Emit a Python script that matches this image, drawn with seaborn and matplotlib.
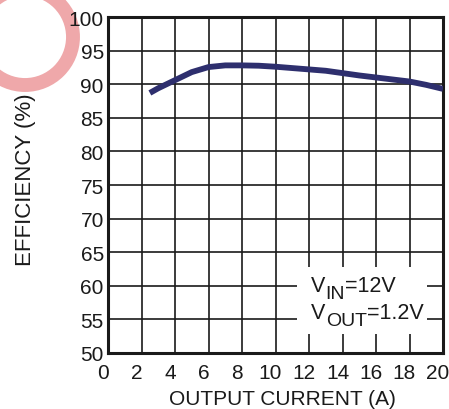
import matplotlib
matplotlib.use('Agg')

import matplotlib.pyplot as plt
import matplotlib.patches as mpatches
import matplotlib.transforms as mtransforms
import seaborn as sns
import pandas as pd

# Efficiency curve
current_a = [2.5, 3, 4, 5, 6, 7, 8, 9, 10, 11, 12, 13, 14, 15, 16, 17, 18, 19, 20]
efficiency_pct = [88.7, 89.4, 90.6, 91.8, 92.55, 92.8, 92.8, 92.75, 92.6, 92.4,
                  92.2, 92.0, 91.65, 91.3, 91.0, 90.7, 90.4, 89.9, 89.3]

x_ticks = list(range(0, 21, 2))
y_ticks = list(range(50, 101, 5))

# operating conditions: (symbol, subscript, value)
conditions = [('V', 'IN', '=12V'), ('V', 'OUT', '=1.2V')]

LINE_COLOR = '#2E2F6E'
RING_COLOR = '#EFA8AA'
INK = '#1a1a1a'

sns.set_theme(style='white')
plt.rcParams['font.family'] = ['Liberation Sans', 'DejaVu Sans']

df = pd.DataFrame({'current': current_a, 'eff': efficiency_pct})

fig = plt.figure(figsize=(4.49, 4.10), dpi=100)
ax = fig.add_axes([108 / 449, 1 - 354 / 410, 335 / 449, 336 / 410])

sns.lineplot(data=df, x='current', y='eff', color=LINE_COLOR, linewidth=4.2,
             ax=ax, zorder=3, solid_capstyle='butt')

ax.set_xlim(0, 20)
ax.set_ylim(50, 100)
ax.set_xticks(x_ticks)
ax.set_yticks(y_ticks)
ax.tick_params(axis='both', length=0, labelsize=15, colors=INK)
ax.tick_params(axis='x', pad=7)
ax.tick_params(axis='y', pad=3)
ax.grid(True, color=INK, linewidth=1.2)
ax.set_axisbelow(True)
for s in ax.spines.values():
    s.set_visible(True)
    s.set_color(INK)
    s.set_linewidth(2.2)

# x tick labels sit a little left of their grid lines in the reference
shift = mtransforms.ScaledTranslation(-5 / 100, 0, fig.dpi_scale_trans)
for lbl in ax.get_xticklabels():
    lbl.set_transform(lbl.get_transform() + shift)

ax.set_xlabel('OUTPUT CURRENT (A)', fontsize=15, color=INK)
ax.xaxis.set_label_coords(0.521, -0.108)
ax.set_ylabel('EFFICIENCY (%)', fontsize=16, color=INK)
ax.yaxis.set_label_coords(-0.215, 0.518)

# white box holding the operating conditions, cutting the grid
ax.add_patch(mpatches.Rectangle((0.564, 0.057), 0.388, 0.199, transform=ax.transAxes,
                                facecolor='white', edgecolor='none', zorder=2))
for (sym, sub, val), y in zip(conditions, [0.1845, 0.104]):
    t_sym = ax.text(0.606, y, sym, transform=ax.transAxes, fontsize=15.5,
                    color=INK, va='baseline', ha='left', zorder=4)
    t_sub = ax.annotate(sub, xy=(1, 0), xycoords=t_sym, xytext=(0.2, -4.5),
                        textcoords='offset points', fontsize=14, color=INK,
                        va='bottom', ha='left', zorder=4)
    ax.annotate(val, xy=(1, 0), xycoords=(t_sub, t_sym), xytext=(0, 0),
                textcoords='offset points', fontsize=15.5, color=INK,
                va='bottom', ha='left', zorder=4)

# pink ring in the top-left corner
ring = mpatches.Circle((25, 410 - 38), 48, transform=None, fill=False,
                       edgecolor=RING_COLOR, linewidth=10, zorder=-1)
fig.add_artist(ring)

fig.savefig('out.png', dpi=100)
